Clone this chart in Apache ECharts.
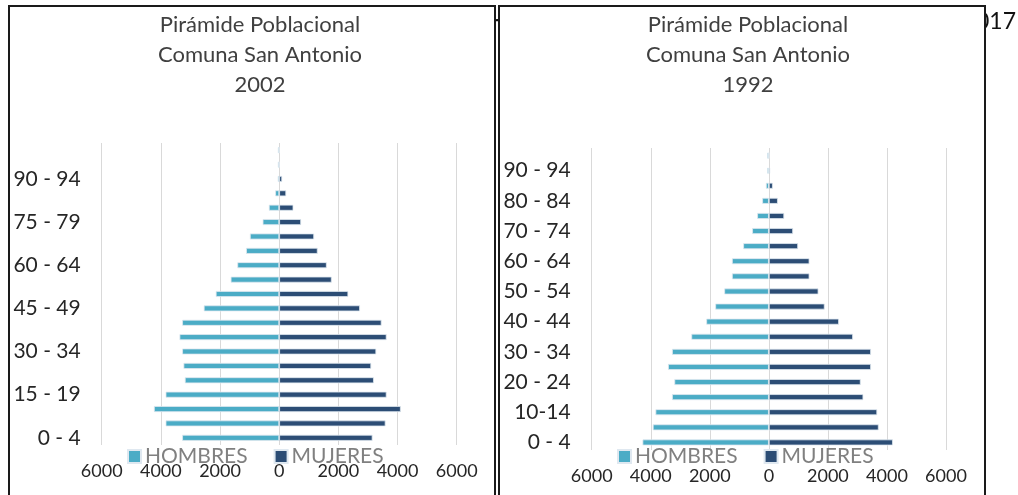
<!DOCTYPE html>
<html>
<head>
<meta charset="utf-8">
<script src="https://cdn.jsdelivr.net/npm/echarts@6/dist/echarts.min.js"></script>
<style>
  html, body { margin: 0; padding: 0; background: #fff; }
  #chart { width: 1018px; height: 495px; }
</style>
</head>
<body>
<div id="chart"></div>
<script>
// grupos de edad
const edades2002 = ['0 - 4', '5 - 9', '10 - 14', '15 - 19', '20 - 24', '25 - 29', '30 - 34', '35 - 39',
  '40 - 44', '45 - 49', '50 - 54', '55 - 59', '60 - 64', '65 - 69', '70 - 74', '75 - 79',
  '80 - 84', '85 - 89', '90 - 94', '95 - 99', '100 y más'];
const edades1992 = ['0 - 4', '5 - 9', '10-14', '15 - 19', '20 - 24', '25 - 29', '30 - 34', '35 - 39',
  '40 - 44', '45 - 49', '50 - 54', '55 - 59', '60 - 64', '65 - 69', '70 - 74', '75 - 79',
  '80 - 84', '85 - 89', '90 - 94', '95 y más'];

const hombres2002 = [3280, 3840, 4235, 3840, 3190, 3235, 3280, 3370, 3280, 2550, 2145,
  1640, 1415, 1120, 990, 560, 350, 135, 50, 45, 45];
const mujeres2002 = [3155, 3595, 4110, 3630, 3200, 3110, 3280, 3630, 3460, 2730, 2335,
  1775, 1607, 1300, 1180, 740, 480, 236, 100, 10, 5];

const hombres1992 = [4280, 3930, 3840, 3280, 3200, 3415, 3280, 2625, 2120, 1815, 1510,
  1250, 1250, 868, 565, 395, 225, 100, 55, 55];
const mujeres1992 = [4200, 3720, 3670, 3200, 3110, 3460, 3460, 2850, 2375, 1890, 1680,
  1375, 1375, 990, 820, 520, 305, 135, 45, 10];

const ejeX = [-6000, 6000, 2000];

const FONT = 'Lato';
const C_H = '#4bacc6';
const C_M = '#2c4d75';

const chart = echarts.init(document.getElementById('chart'));

function xAxis(grid) {
  return {
    type: 'value', gridIndex: grid,
    min: ejeX[0], max: ejeX[1], interval: ejeX[2],
    axisLine: { show: false }, axisTick: { show: false },
    splitLine: { lineStyle: { color: '#d9d9d9', width: 1 } },
    axisLabel: {
      margin: 17, fontFamily: FONT, fontSize: 18, color: '#262626',
      formatter: v => Math.abs(v)
    }
  };
}
function yAxis(grid, cats, interval) {
  return {
    type: 'category', gridIndex: grid, data: cats,
    axisLine: { show: false }, axisTick: { show: false },
    axisLabel: { interval: interval, margin: 21, fontFamily: FONT, fontSize: 21, color: '#262626' }
  };
}
function barra(name, color, idx, data, neg) {
  return {
    name: name, type: 'bar', stack: 's' + idx,
    xAxisIndex: idx, yAxisIndex: idx,
    barWidth: 6,
    itemStyle: { color: color, borderColor: '#dfe8f0', borderWidth: 0.8 },
    data: neg ? data.map(v => -v) : data
  };
}
function titulo(x, anio) {
  return {
    text: 'Pirámide Poblacional\nComuna San Antonio\n' + anio,
    left: x, top: 5, textAlign: 'center',
    textStyle: { fontFamily: FONT, fontSize: 22, fontWeight: 'normal', color: '#404040', lineHeight: 30 }
  };
}
function leyenda(x) {
  return {
    left: x, top: 446, padding: 0, itemGap: 26, itemWidth: 13, itemHeight: 13,
    icon: 'rect', data: ['HOMBRES', 'MUJERES'],
    textStyle: { fontFamily: FONT, fontSize: 21, color: '#808080', padding: [0, 0, 0, -1] }
  };
}

chart.setOption({
  animation: false,
  title: [titulo(255, '2002'), titulo(743, '1992')],
  legend: [leyenda(127), leyenda(617)],
  grid: [
    { left: 101.7, right: 1018 - 456.7, top: 143, bottom: 50 },
    { left: 591.7, right: 1018 - 946, top: 148, bottom: 45 }
  ],
  xAxis: [xAxis(0), xAxis(1)],
  yAxis: [yAxis(0, edades2002, 2), yAxis(1, edades1992, 1)],
  series: [
    barra('HOMBRES', C_H, 0, hombres2002, true),
    barra('MUJERES', C_M, 0, mujeres2002, false),
    barra('HOMBRES', C_H, 1, hombres1992, true),
    barra('MUJERES', C_M, 1, mujeres1992, false)
  ],
  graphic: [
    // texto del documento que queda detrás de los gráficos
    { type: 'text', z: 0, x: 1016, y: 10, style: { text: '2017', align: 'right', fontFamily: FONT, fontSize: 23, fill: '#111' } },
    { type: 'text', z: 0, x: 490, y: 12, style: { text: 'r', fontFamily: FONT, fontSize: 23, fill: '#111' } },
    { type: 'rect', z: 1, shape: { x: 10, y: 7, width: 484, height: 40 }, style: { fill: '#fff' } },
    { type: 'rect', z: 1, shape: { x: 500, y: 7, width: 484, height: 40 }, style: { fill: '#fff' } },
    // marcos
    { type: 'polyline', z: 2, shape: { points: [[9, 495], [9, 6], [495, 6], [495, 495]] },
      style: { stroke: '#1a1a1a', lineWidth: 2, fill: null } },
    { type: 'polyline', z: 2, shape: { points: [[499, 495], [499, 6], [985, 6], [985, 495]] },
      style: { stroke: '#1a1a1a', lineWidth: 2, fill: null } }
  ]
});
</script>
</body>
</html>
